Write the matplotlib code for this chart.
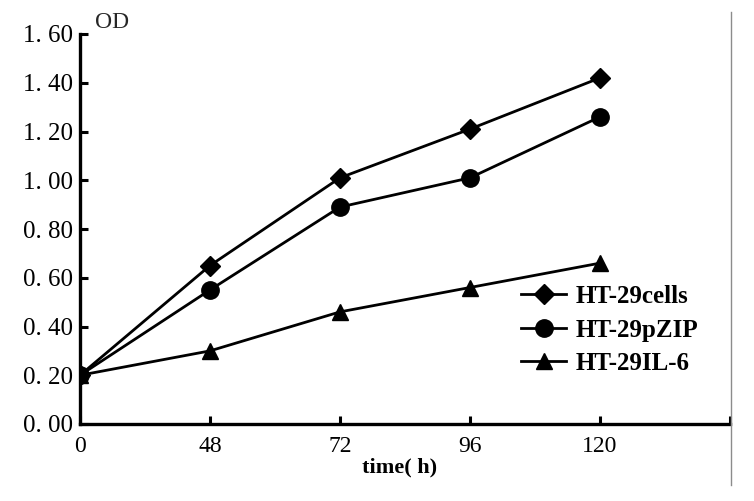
import matplotlib.pyplot as plt
import numpy as np
from matplotlib.lines import Line2D

# data
times = ["0", "48", "72", "96", "120"]
cells = [0.20, 0.65, 1.01, 1.21, 1.42]
pzip = [0.20, 0.55, 0.89, 1.01, 1.26]
il6 = [0.20, 0.30, 0.46, 0.56, 0.66]
yticks = [0.0, 0.2, 0.4, 0.6, 0.8, 1.0, 1.2, 1.4, 1.6]

plt.rcParams['font.family'] = ['Liberation Serif', 'DejaVu Serif']

fig = plt.figure(figsize=(7.54, 5.01), dpi=100)
W, H = 754, 501
ax = fig.add_axes([80 / W, 1 - 424 / H, 650 / W, 390 / H])

x = np.arange(len(times))
ax.plot(x, cells, color='black', lw=2.0, marker='D', ms=10, label='HT-29cells')
ax.plot(x, pzip, color='black', lw=2.0, marker='o', ms=12.5, label='HT-29pZIP')
ax.plot(x, il6, color='black', lw=2.0, marker='^', ms=12, label='HT-29IL-6')

ax.set_xlim(0, 5)
ax.set_ylim(0, 1.6)
ax.set_xticks(list(x) + [5])
ax.set_xticklabels(times + [""], fontsize=17)
ax.set_yticks(yticks)
ax.set_yticklabels([f"{v:.2f}".replace(".", ". ") for v in yticks], fontsize=18)
ax.tick_params(direction='in', length=6, width=2.2, colors='black')
ax.tick_params(axis='y', pad=5)
ax.tick_params(axis='x', pad=9)

for s in ['top', 'right']:
    ax.spines[s].set_visible(False)
for s in ['left', 'bottom']:
    ax.spines[s].set_linewidth(2.4)

ax.set_xlabel('time( h)', fontsize=16, fontweight='bold')
ax.xaxis.set_label_coords((400 - 80) / 650, -0.085)
fig.text(95 / W, 1 - 22 / H, 'OD', fontsize=17, ha='left', va='center', color='0.15')

leg = ax.legend(loc='upper left', bbox_to_anchor=((521 - 80) / 650, 1 - (285 - 34) / 390),
                frameon=False, fontsize=18, handlelength=1.8, handletextpad=0.4,
                labelspacing=0.42, borderpad=0, borderaxespad=0)
for t in leg.get_texts():
    t.set_fontweight('bold')

# scanned page border on the right
fig.add_artist(Line2D([731 / W, 731 / W], [1 - 12 / H, 1 - 485 / H], color='0.55', lw=1))

fig.savefig('out.png', dpi=100)
